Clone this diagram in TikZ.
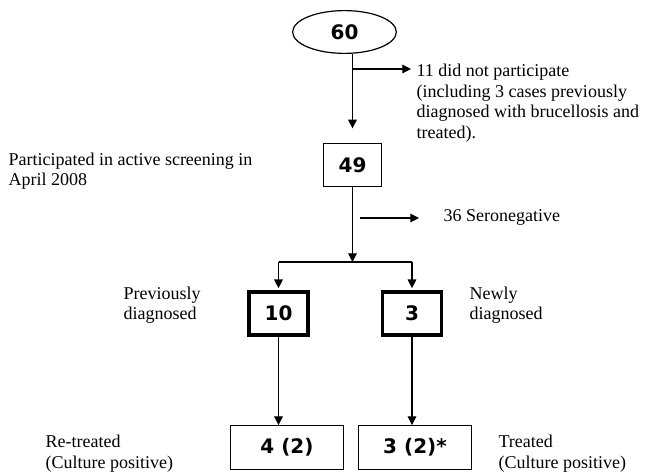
\documentclass[tikz,border=0pt]{standalone}
\usepackage{fontspec}
\setmainfont{Liberation Serif}
\newfontfamily\numfont{DejaVu Sans}
\usetikzlibrary{arrows.meta,shapes.geometric}

\begin{document}
\begin{tikzpicture}[x=0.75pt, y=-0.75pt, line width=0.8pt, >={Triangle[length=6.5pt, width=6.5pt]},
	every node/.style={font=\fontsize{13.5}{15.4}\selectfont},
	lbl/.style={anchor=base west, align=left, inner sep=0pt},
	numbox/.style={draw, line width=0.9pt, inner sep=0pt, font=\numfont\bfseries\fontsize{15}{17}\selectfont},
	thickbox/.style={numbox, line width=2.8pt, minimum width=44.4pt, minimum height=32.4pt}]
	\useasboundingbox (0,0) rectangle (647,474);
	\node[numbox, ellipse, minimum width=77.8pt, minimum height=32.1pt] (total) at (344.5,32) {60};
	\node[numbox, minimum width=43.3pt, minimum height=32.1pt] (screened) at (352.5,165) {49};
	\node[thickbox] (prev) at (278.5,313.5) {10};
	\node[thickbox] (newly) at (412,313.5) {3};
	\node[numbox, minimum width=84.6pt, minimum height=32.8pt] (retreated) at (287,447.5) {4 (2)};
	\node[numbox, minimum width=84.6pt, minimum height=32.8pt] (treated) at (415,447.5) {3 (2)*};
	\coordinate (skip) at (411,69);
	\coordinate (seroA) at (360,218);
	\coordinate (seroB) at (419,218);
	\coordinate (split) at (352.5,262);
	\draw[->, shorten >=11pt] (total.south -| screened) -- (screened.north);
	\draw[->] (screened.north |- skip) -- (skip);
	\draw[->] (seroA) -- (seroB);
	\draw[->] (screened.south) -- (split);
	\draw (prev.north |- split) -- (newly.north |- split);
	\draw[->, shorten >=1.4pt] (prev.north |- split) -- (prev.north);
	\draw[->, shorten >=1.4pt] (newly.north |- split) -- (newly.north);
	\draw[->] (prev.south) -- (prev.south |- retreated.north);
	\draw[->] (newly.south) -- (newly.south |- treated.north);
	\node[lbl] (skiptxt) at (416,138.5) {11 did not participate\\(including 3 cases previously\\diagnosed with brucellosis and\\treated).};
	\node[lbl] (screentxt) at (8,186) {Participated in active screening in\\April 2008};
	\node[lbl] (serotxt) at (443,222) {36 Seronegative};
	\node[lbl] (prevtxt) at (123,320) {Previously\\diagnosed};
	\node[lbl] (newtxt) at (469,320) {Newly\\diagnosed};
	\node[lbl] (retxt) at (45,468) {Re-treated\\(Culture positive)};
	\node[lbl] (trtxt) at (498,468) {Treated\\(Culture positive)};
\end{tikzpicture}
\end{document}
